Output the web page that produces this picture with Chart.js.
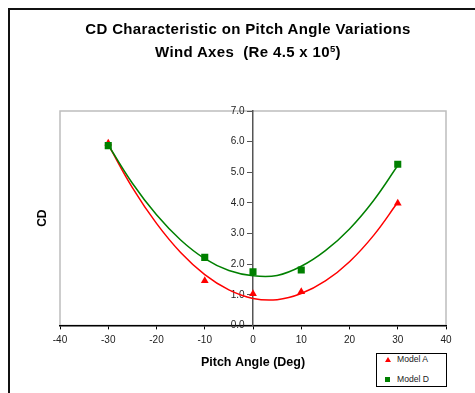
<!DOCTYPE html>
<html lang="en">

<head>
    <meta charset="UTF-8">
    <title>CD Characteristic on Pitch Angle Variations</title>
    <script src="https://cdn.jsdelivr.net/npm/chart.js"></script>
    <style>
        body { margin: 0; background: #fff; font-family: "Liberation Sans", Arial, sans-serif; }
        #wrap { position: relative; width: 475px; height: 393px; overflow: hidden; background: #fff; }
        #frame { position: absolute; left: 8px; top: 8px; width: 480px; height: 400px;
                 border-left: 2px solid #111; border-top: 2px solid #111; }
        #title { position: absolute; left: 21px; width: 454px; top: 18px; text-align: center;
                 font-weight: bold; font-size: 15px; letter-spacing: 0.35px; line-height: 22.5px; color: #000; }
        #title sup { font-size: 9.5px; vertical-align: 5px; line-height: 0; }
        #chart { position: absolute; left: 0; top: 0; }
        #legend { position: absolute; left: 376px; top: 353px; width: 69px; height: 32px;
                  border: 1px solid #000; background: #fff; font-size: 8.6px; color: #222; }
        .row { position: absolute; left: 0; height: 11px; line-height: 11px; width: 100%; }
        .row span.txt { position: absolute; left: 20px; top: 0; }
        .tri { position: absolute; left: 8px; top: 3px; width: 0; height: 0;
               border-left: 3px solid transparent; border-right: 3px solid transparent; border-bottom: 5px solid red; }
        .sq { position: absolute; left: 8px; top: 3px; width: 5px; height: 5px; }
    </style>
</head>

<body>
    <div id="wrap">
        <div id="frame"></div>
        <canvas id="chart" width="475" height="393"></canvas>
        <div id="title">CD Characteristic on Pitch Angle Variations<br>Wind Axes&nbsp; (Re 4.5 x 10<sup>5</sup>)</div>
        <div id="legend"></div>
    </div>

    <script>
        // measured points
        const pitchAngles = [-30, -10, 0, 10, 30];
        const cdModelA = [5.95, 1.46, 1.03, 1.10, 3.99];
        const cdModelD = [5.87, 2.22, 1.75, 1.81, 5.26];

        // trend curves
        const trendAngles = [-30, -25, -20, -15, -10, -5, 0, 5, 10, 15, 20, 25, 30];
        const trendModelA = [5.90, 4.50, 3.33, 2.38, 1.66, 1.16, 0.88, 0.84, 1.04, 1.45, 2.08, 2.94, 4.02];
        const trendModelD = [5.89, 4.64, 3.61, 2.79, 2.18, 1.79, 1.62, 1.63, 1.93, 2.44, 3.15, 4.08, 5.22];

        const seriesNames = ['Model A', 'Model D'];
        const seriesColors = ['#ff0000', '#008000'];
        const seriesMarkers = ['triangle', 'rect'];

        const xMin = -40, xMax = 40, xStep = 10;
        const yMin = 0, yMax = 7, yStep = 1;
        const yAxisTitle = 'CD';
        const xAxisTitle = 'Pitch Angle (Deg)';

        const toPoints = (xs, ys) => xs.map((x, i) => ({ x: x, y: ys[i] }));

        Chart.defaults.font.family = '"Liberation Sans", Arial, sans-serif';

        // light grey plot frame + rotated y title
        const plotFrame = {
            id: 'plotFrame',
            beforeDraw(chart) {
                const { ctx, chartArea: a } = chart;
                ctx.save();
                ctx.strokeStyle = '#bdbdbd';
                ctx.lineWidth = 1.5;
                ctx.strokeRect(a.left, a.top, a.right - a.left, a.bottom - a.top);
                ctx.restore();
            },
            afterDraw(chart) {
                const { ctx, chartArea: a } = chart;
                ctx.save();
                ctx.translate(43, (a.top + a.bottom) / 2);
                ctx.rotate(-Math.PI / 2);
                ctx.font = 'bold 12px "Liberation Sans", Arial, sans-serif';
                ctx.fillStyle = '#000';
                ctx.textAlign = 'center';
                ctx.textBaseline = 'middle';
                ctx.fillText(yAxisTitle, 0, 0);
                ctx.restore();
            }
        };

        const ctx = document.getElementById('chart').getContext('2d');
        const chart = new Chart(ctx, {
            type: 'scatter',
            data: {
                datasets: [
                    {
                        label: seriesNames[1],
                        data: toPoints(pitchAngles, cdModelD),
                        backgroundColor: seriesColors[1],
                        borderColor: seriesColors[1],
                        pointStyle: seriesMarkers[1],
                        pointRadius: 5,
                        pointBorderWidth: 0,
                    },
                    {
                        label: seriesNames[0],
                        data: toPoints(pitchAngles, cdModelA),
                        backgroundColor: seriesColors[0],
                        borderColor: seriesColors[0],
                        pointStyle: seriesMarkers[0],
                        pointRadius: 4.5,
                        pointBorderWidth: 0,
                    },
                    {
                        label: 'trend D',
                        data: toPoints(trendAngles, trendModelD),
                        showLine: true,
                        borderColor: seriesColors[1],
                        borderWidth: 1.5,
                        pointRadius: 0,
                        tension: 0.4,
                    },
                    {
                        label: 'trend A',
                        data: toPoints(trendAngles, trendModelA),
                        showLine: true,
                        borderColor: seriesColors[0],
                        borderWidth: 1.5,
                        pointRadius: 0,
                        tension: 0.4,
                    },
                ]
            },
            options: {
                responsive: false,
                animation: false,
                devicePixelRatio: 1,
                layout: { padding: { left: 60, right: 29, top: 111, bottom: 22.6 } },
                plugins: {
                    legend: { display: false },
                    title: { display: false },
                    tooltip: { enabled: false },
                },
                scales: {
                    x: {
                        type: 'linear',
                        min: xMin, max: xMax,
                        ticks: { stepSize: xStep, color: '#222', font: { size: 10 }, padding: 5 },
                        grid: { drawOnChartArea: false, tickLength: 4, tickColor: '#000' },
                        border: { color: '#000', width: 1.5 },
                        title: {
                            display: true, text: xAxisTitle, color: '#000',
                            font: { size: 12.5, weight: 'bold' }, padding: { top: 4, bottom: 0 }
                        },
                    },
                    y: {
                        position: { x: 0 },
                        min: yMin, max: yMax,
                        ticks: {
                            stepSize: yStep, color: '#222', font: { size: 10 },
                            // labels sit left of the centre axis, clear of the tick marks
                            callback: v => v.toFixed(1) + '   '
                        },
                        grid: { drawOnChartArea: false, tickLength: 5, tickColor: '#555' },
                        border: { color: '#555', width: 1.5 },
                    }
                }
            },
            plugins: [plotFrame]
        });

        // legend box, built from the series names
        const legend = document.getElementById('legend');
        legend.innerHTML = seriesNames.map((name, i) => `
            <div class="row" style="top:${i * 19.5}px">
                <span class="${seriesMarkers[i] === 'triangle' ? 'tri' : 'sq'}" style="${seriesMarkers[i] === 'rect' ? 'background:' + seriesColors[i] : ''}"></span>
                <span class="txt">${name}</span>
            </div>
        `).join('');
    </script>
</body>

</html>
